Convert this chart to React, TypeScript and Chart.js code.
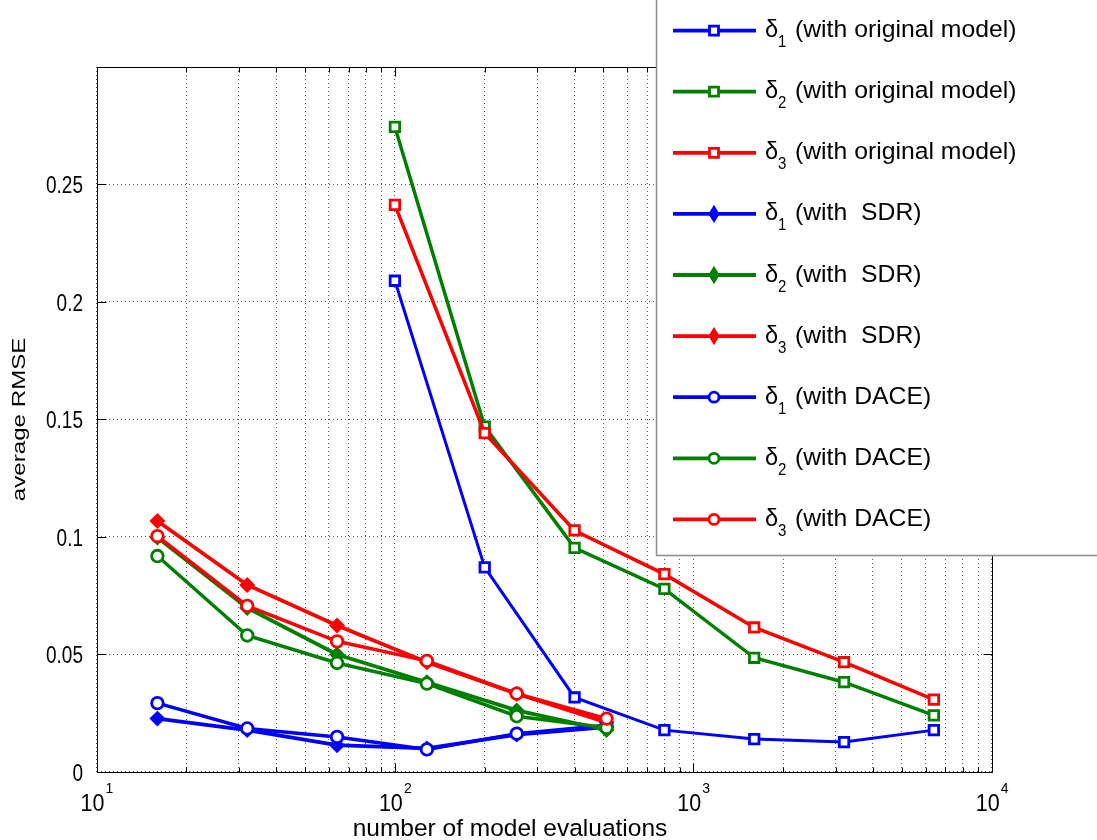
import React, { useEffect, useRef } from 'react';
import { Chart, registerables } from 'chart.js';

Chart.register(...registerables);

// ---- data ----
const originalEvals = [100, 200, 400, 800, 1600, 3200, 6400];
const surrogateEvals = [16, 32, 64, 128, 256, 512];

const d1Original = [0.209, 0.087, 0.0316, 0.0177, 0.0139, 0.0126, 0.0177];
const d2Original = [0.2745, 0.1469, 0.0953, 0.0778, 0.0485, 0.0381, 0.024];
const d3Original = [0.2413, 0.1441, 0.1027, 0.0841, 0.0614, 0.0466, 0.0307];

const d1SDR = [0.0226, 0.0177, 0.0113, 0.0099, 0.0158, 0.019];
const d2SDR = [0.0997, 0.0697, 0.0499, 0.0381, 0.0261, 0.0177];
const d3SDR = [0.1067, 0.0795, 0.0622, 0.0466, 0.0332, 0.021];

const d1DACE = [0.0292, 0.0184, 0.0148, 0.0095, 0.0162, 0.0198];
const d2DACE = [0.0918, 0.058, 0.0463, 0.0375, 0.0236, 0.0187];
const d3DACE = [0.1003, 0.0706, 0.0555, 0.0472, 0.0332, 0.0226];

const yTickValues = [0, 0.05, 0.1, 0.15, 0.2, 0.25];
const yTickLabels = ['0', '0.05', '0.1', '0.15', '0.2', '0.25'];
const xDecades = [10, 100, 1000, 10000];
const xDecadeExponents = ['1', '2', '3', '4'];
const xMinorMultipliers = [2, 3, 4, 5, 6, 7, 8, 9];

const legendSubscripts = ['1', '2', '3', '1', '2', '3', '1', '2', '3'];
const legendSuffixes = [
  '(with original model)',
  '(with original model)',
  '(with original model)',
  '(with  SDR)',
  '(with  SDR)',
  '(with  SDR)',
  '(with DACE)',
  '(with DACE)',
  '(with DACE)',
];

const xTitle = 'number of model evaluations';
const yTitle = 'average RMSE';

const BLUE = '#0000ff';
const GREEN = '#008000';
const RED = '#ff0000';

const series = [
  { x: originalEvals, y: d1Original, color: BLUE, marker: 'rect', lw: 3 },
  { x: originalEvals, y: d2Original, color: GREEN, marker: 'rect', lw: 3.5 },
  { x: originalEvals, y: d3Original, color: RED, marker: 'rect', lw: 3.5 },
  { x: surrogateEvals, y: d1SDR, color: BLUE, marker: 'rectRot', lw: 3.8 },
  { x: surrogateEvals, y: d2SDR, color: GREEN, marker: 'rectRot', lw: 3.8 },
  { x: surrogateEvals, y: d3SDR, color: RED, marker: 'rectRot', lw: 3.8 },
  { x: surrogateEvals, y: d1DACE, color: BLUE, marker: 'circle', lw: 3.5 },
  { x: surrogateEvals, y: d2DACE, color: GREEN, marker: 'circle', lw: 3.5 },
  { x: surrogateEvals, y: d3DACE, color: RED, marker: 'circle', lw: 3.5 },
];

const FONT = '"Liberation Sans", Arial, Helvetica, sans-serif';

function txt(
  ctx: CanvasRenderingContext2D,
  s: string,
  x: number,
  y: number,
  size: number,
  align: CanvasTextAlign,
  sx = 1,
  sy = 1
) {
  ctx.save();
  ctx.translate(x, y);
  ctx.scale(sx, sy);
  ctx.font = `${size}px ${FONT}`;
  ctx.textAlign = align;
  ctx.textBaseline = 'alphabetic';
  ctx.fillStyle = '#000';
  ctx.fillText(s, 0, 0);
  ctx.restore();
}

function drawMarker(ctx: CanvasRenderingContext2D, kind: string, x: number, y: number, color: string) {
  ctx.save();
  ctx.strokeStyle = color;
  ctx.lineWidth = 2.8;
  ctx.beginPath();
  if (kind === 'rect') {
    ctx.fillStyle = '#fff';
    ctx.rect(x - 4.5, y - 4.5, 9, 9);
    ctx.fill();
    ctx.stroke();
  } else if (kind === 'rectRot') {
    ctx.fillStyle = color;
    ctx.moveTo(x, y - 6.5);
    ctx.lineTo(x + 4, y);
    ctx.lineTo(x, y + 6.5);
    ctx.lineTo(x - 4, y);
    ctx.closePath();
    ctx.fill();
    ctx.stroke();
  } else {
    ctx.fillStyle = '#fff';
    ctx.arc(x, y, 5, 0, Math.PI * 2);
    ctx.fill();
    ctx.stroke();
  }
  ctx.restore();
}

const decorPlugin = {
  id: 'matlabDecor',
  afterDatasetsDraw(chart: any) {
    const ctx: CanvasRenderingContext2D = chart.ctx;
    const xs = chart.scales.x;
    const ys = chart.scales.y;
    const { left, right, top, bottom } = chart.chartArea;
    const L = Math.round(left) + 0.5;
    const R = Math.round(right) + 0.5;
    const T = Math.round(top) + 0.5;
    const B = Math.round(bottom) + 0.5;

    ctx.save();
    // frame
    ctx.strokeStyle = '#000';
    ctx.lineWidth = 1;
    ctx.setLineDash([]);
    ctx.strokeRect(L, T, R - L, B - T);

    // inward ticks
    ctx.beginPath();
    xDecades.forEach((d, i) => {
      const px = Math.round(xs.getPixelForValue(d)) + 0.5;
      ctx.moveTo(px, B);
      ctx.lineTo(px, B - 9);
      ctx.moveTo(px, T);
      ctx.lineTo(px, T + 9);
      if (i < xDecades.length - 1) {
        xMinorMultipliers.forEach((m) => {
          const mx = Math.round(xs.getPixelForValue(d * m)) + 0.5;
          ctx.moveTo(mx, B);
          ctx.lineTo(mx, B - 5);
          ctx.moveTo(mx, T);
          ctx.lineTo(mx, T + 5);
        });
      }
    });
    yTickValues.forEach((v) => {
      const py = Math.round(ys.getPixelForValue(v)) + 0.5;
      ctx.moveTo(L, py);
      ctx.lineTo(L + 9, py);
      ctx.moveTo(R, py);
      ctx.lineTo(R - 9, py);
    });
    ctx.stroke();

    // y tick labels
    yTickValues.forEach((v, i) => {
      const py = ys.getPixelForValue(v);
      txt(ctx, yTickLabels[i], 83, py + 9, 19, 'right', 1, 1.22);
    });

    // x tick labels 10^n
    xDecades.forEach((d, i) => {
      const px = xs.getPixelForValue(d);
      txt(ctx, '10', px - 16, 811, 21.5, 'left', 1, 1.1);
      txt(ctx, xDecadeExponents[i], px + 9, 793, 14, 'left', 1, 1.1);
    });

    // axis titles
    txt(ctx, xTitle, 510, 836, 24.5, 'center');
    ctx.save();
    ctx.translate(25, (top + bottom) / 2);
    ctx.rotate(-Math.PI / 2);
    txt(ctx, yTitle, 0, 0, 19, 'center', 1.27, 1);
    ctx.restore();

    // legend box
    const bx = 656.5;
    const by = 555.5;
    ctx.fillStyle = '#fff';
    ctx.fillRect(bx, -5, 1110 - bx, by + 5);
    ctx.strokeStyle = '#8a8a8a';
    ctx.lineWidth = 1.5;
    ctx.beginPath();
    ctx.moveTo(bx, -5);
    ctx.lineTo(bx, by);
    ctx.lineTo(1110, by);
    ctx.stroke();

    chart.data.datasets.forEach((ds: any, i: number) => {
      const iy = 30.6 + i * 61.1;
      ctx.save();
      ctx.strokeStyle = ds.borderColor;
      ctx.lineWidth = 3.8;
      ctx.beginPath();
      ctx.moveTo(673, iy);
      ctx.lineTo(756, iy);
      ctx.stroke();
      ctx.restore();
      drawMarker(ctx, ds.pointStyle, 714, iy, ds.borderColor);
      txt(ctx, '\u03b4', 765, iy + 6.5, 22.5, 'left', 1.05, 1.08);
      txt(ctx, legendSubscripts[i], 778, iy + 16.5, 15, 'left', 1, 1.08);
      txt(ctx, legendSuffixes[i], 795, iy + 6.5, 22.5, 'left', 1.1, 1.08);
    });

    ctx.restore();
  },
};

export default function App() {
  const canvasRef = useRef<HTMLCanvasElement | null>(null);

  useEffect(() => {
    const canvas = canvasRef.current;
    if (!canvas) return;
    const gridColor = 'rgba(0,0,0,0.65)';
    const xGridTicks: number[] = [];
    xDecades.forEach((d, i) => {
      xGridTicks.push(d);
      if (i < xDecades.length - 1) xMinorMultipliers.forEach((m) => xGridTicks.push(d * m));
    });

    const datasets = series.map((s, i) => ({
      data: s.x.map((x, j) => ({ x, y: s.y[j] })),
      borderColor: s.color,
      backgroundColor: s.color,
      borderWidth: s.lw,
      pointStyle: s.marker,
      pointRadius: s.marker === 'rect' ? 6.7 : s.marker === 'rectRot' ? 6 : 5.8,
      pointBorderWidth: 2.8,
      pointBackgroundColor: s.marker === 'rectRot' ? s.color : '#ffffff',
      pointBorderColor: s.color,
      tension: 0,
      fill: false,
      order: series.length - i,
    }));

    const chart = new Chart(canvas, {
      type: 'line',
      data: { datasets } as any,
      options: {
        responsive: false,
        animation: false,
        devicePixelRatio: 1,
        layout: { padding: { left: 0, top: 67, right: 105.3, bottom: 0 } },
        plugins: { legend: { display: false }, tooltip: { enabled: false }, title: { display: false } },
        scales: {
          x: {
            type: 'logarithmic',
            min: 10,
            max: 10000,
            afterBuildTicks: (s: any) => {
              s.ticks = xGridTicks.map((v) => ({ value: v }));
            },
            afterFit: (s: any) => {
              s.height = 68.3;
            },
            ticks: { display: false },
            grid: { color: gridColor, lineWidth: 1, drawTicks: false },
            border: { display: false, dash: [1, 3] },
          },
          y: {
            type: 'linear',
            min: 0,
            max: 0.3,
            afterBuildTicks: (s: any) => {
              s.ticks = yTickValues.map((v) => ({ value: v }));
            },
            afterFit: (s: any) => {
              s.width = 96.5;
            },
            ticks: { display: false },
            grid: { color: gridColor, lineWidth: 1, drawTicks: false },
            border: { display: false, dash: [1, 3] },
          },
        },
      } as any,
      plugins: [decorPlugin],
    });
    return () => chart.destroy();
  }, []);

  return (
    <div style={{ position: 'fixed', left: 0, top: 0, width: 1097, height: 840, background: '#fff' }}>
      <canvas ref={canvasRef} width={1097} height={840} style={{ display: 'block', width: 1097, height: 840 }} />
    </div>
  );
}
